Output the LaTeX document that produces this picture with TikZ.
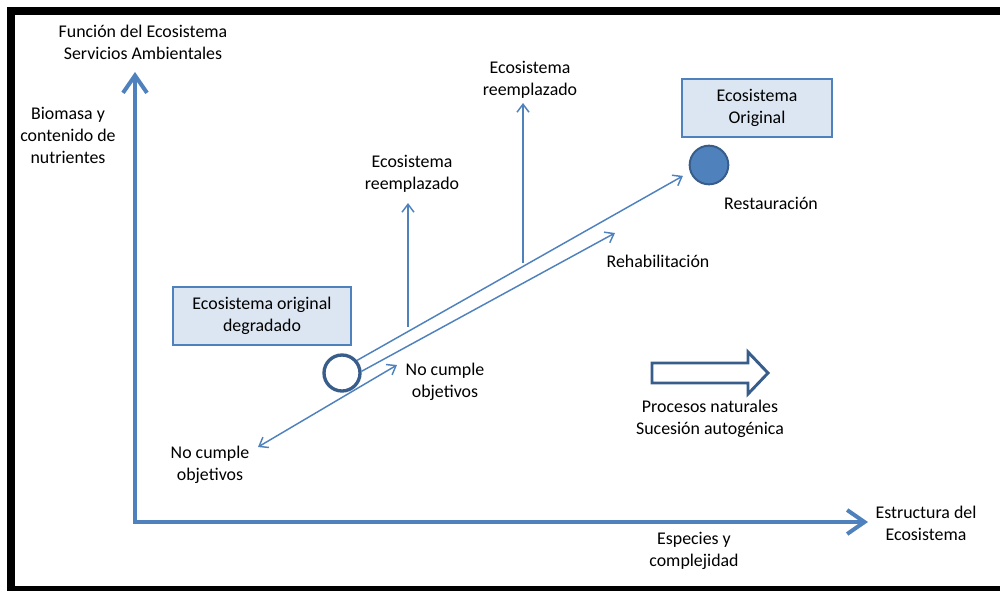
\documentclass[tikz,border=0pt]{standalone}
\usepackage{fontspec}
\setmainfont{Carlito}
\usetikzlibrary{arrows.meta}
\definecolor{axisblue}{HTML}{4F81BD}
\definecolor{darkblue}{HTML}{385D8A}
\definecolor{boxfill}{HTML}{DCE6F2}
\tikzset{
  lbl/.style={align=center,font=\fontsize{13.4}{16.5}\selectfont,inner sep=1pt},
  ecobox/.style={lbl,draw=axisblue,fill=boxfill,line width=1.5pt,minimum height=43pt},
  axisline/.style={draw=axisblue,line width=3pt,{Straight Barb[length=13pt,width=18pt]}-{Straight Barb[length=13pt,width=18pt]}},
  flow/.style={draw=axisblue,line width=1.1pt,-{Straight Barb[length=6pt,width=9pt]}},
  flowboth/.style={flow,{Straight Barb[length=6pt,width=9pt]}-{Straight Barb[length=6pt,width=9pt]}}
}
\begin{document}
\begin{tikzpicture}[x=0.75pt,y=-0.75pt]
\useasboundingbox (0,0) rectangle (1000,590);
\draw [line width=6pt] (1000,11) -- (11,11) -- (11,590) -- (1000,590);

\coordinate (ytip) at (135,72);
\coordinate (origin) at (135,522);
\coordinate (xtip) at (868,522);
\draw [axisline] (ytip) -- (origin) -- (xtip);
\node [lbl] (funcion) at (143,42) {Función del Ecosistema\\Servicios Ambientales};
\node [lbl] (biomasa) at (68,135) {Biomasa y\\contenido de\\nutrientes};
\node [lbl] (estructura) at (926,523) {Estructura del\\Ecosistema};
\node [lbl] (especies) at (694,551) {Especies y\\complejidad};

\coordinate (ncA) at (258,447);
\coordinate (ncB) at (397,365);
\draw [flowboth] (ncA) -- (ncB);
\node [lbl] (ncleft) at (210,465) {No cumple\\objetivos};
\node [lbl] (ncright) at (445,382) {No cumple\\objetivos};

\node [circle,draw=darkblue,line width=2.5pt,fill=white,minimum size=27pt,inner sep=0pt] (deg) at (342,373) {};
\node [circle,draw=darkblue,line width=1.5pt,fill=axisblue,minimum size=29pt,inner sep=0pt] (orig) at (709,165) {};
\node [ecobox,minimum width=134pt] (degbox) at (262,316) {Ecosistema original\\degradado};
\node [ecobox,minimum width=113pt] (origbox) at (757,108) {Ecosistema\\Original};

\coordinate (rehabtip) at (615,233);
\draw [flow,shorten >=6pt] (deg.40) -- (orig.200);
\draw [flow] (deg.5) -- (rehabtip);
\node [lbl] (restaur) at (771,203) {Restauración};
\node [lbl] (rehab) at (658,261) {Rehabilitación};

\coordinate (reAbase) at (408,327);
\coordinate (reAtip) at (408,203);
\coordinate (reBbase) at (523,263);
\coordinate (reBtip) at (523,103);
\draw [flow] (reAbase) -- (reAtip);
\draw [flow] (reBbase) -- (reBtip);
\node [lbl] (reempA) at (412,174) {Ecosistema\\reemplazado};
\node [lbl] (reempB) at (530,80) {Ecosistema\\reemplazado};

\draw [darkblue,line width=2.2pt,fill=white] (652,363) -- (748,363) -- (748,352) -- (768,373) -- (748,394) -- (748,383) -- (652,383) -- cycle;
\node [lbl] (procesos) at (710,419) {Procesos naturales\\Sucesión autogénica};
\end{tikzpicture}
\end{document}
